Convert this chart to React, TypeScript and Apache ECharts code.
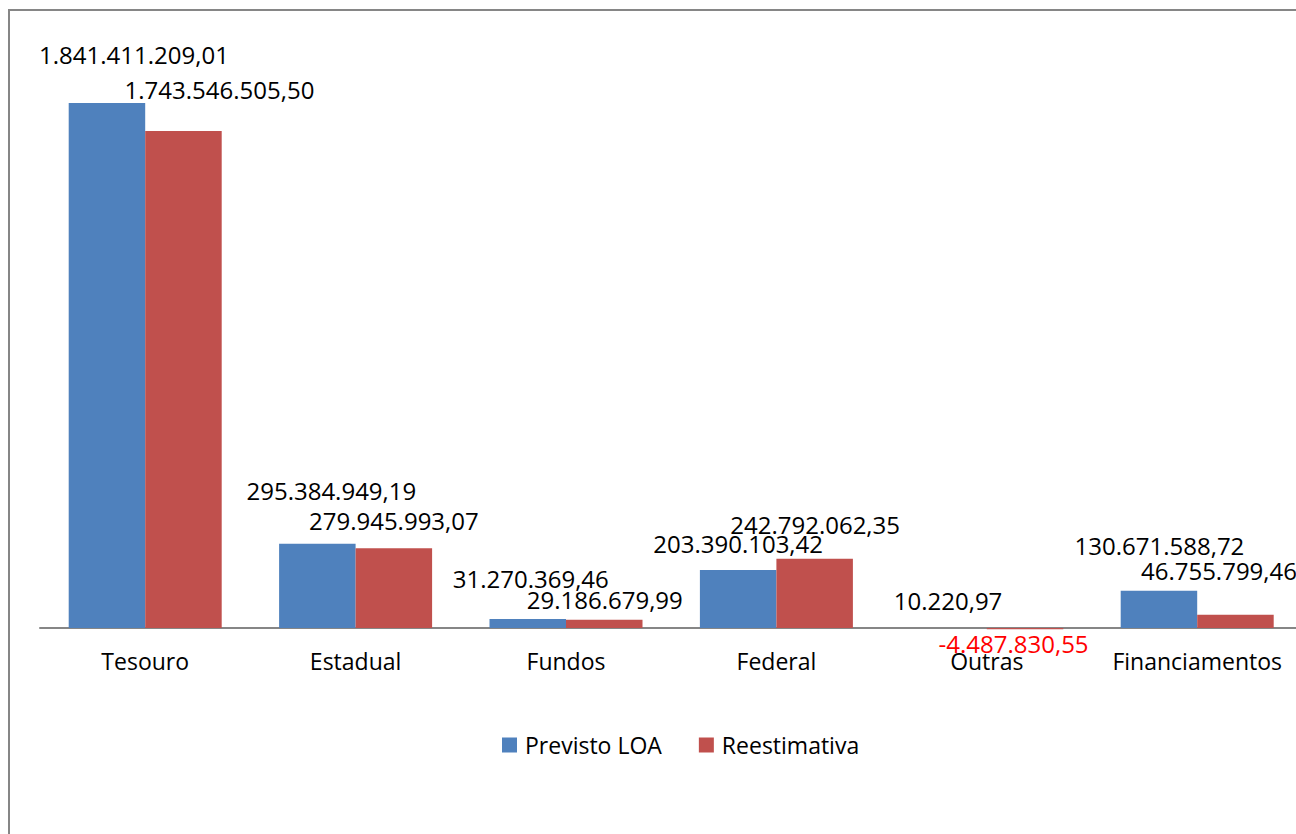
import React, { useEffect, useRef } from "react";
import * as echarts from "echarts";

const categories = ["Tesouro", "Estadual", "Fundos", "Federal", "Outras", "Financiamentos"];
const previstoLOA = [1841411209.01, 295384949.19, 31270369.46, 203390103.42, 10220.97, 130671588.72];
const reestimativa = [1743546505.5, 279945993.07, 29186679.99, 242792062.35, -4487830.55, 46755799.46];

// label offsets (dx, dy) relative to bar top centre
const blueOffsets = [[27, -48.5], [14, -53.5], [3, -41], [0, -27], [-0.5, -27], [0.5, -45]];
const redOffsets = [[36, -41.5], [0, -27.5], [0.5, -20.5], [0.5, -34.5], [-11.5, 16], [-16.5, -44]];

const fmt = (v: number) => {
  const neg = v < 0;
  const abs = Math.abs(v);
  const [i, d] = abs.toFixed(2).split(".");
  const withDots = i.replace(/\B(?=(\d{3})+(?!\d))/g, ".");
  return (neg ? "-" : "") + withDots + "," + d;
};

const FONT = "'Open Sans', sans-serif";

export default function App() {
  const ref = useRef<HTMLDivElement>(null);
  useEffect(() => {
    if (!ref.current) return;
    const chart = echarts.init(ref.current, undefined, { renderer: "svg" });
    const mk = (vals: number[], offs: number[][], isRed: boolean) =>
      vals.map((v, i) => ({
        value: v,
        label: {
          offset: offs[i],
          color: isRed && v < 0 ? "#FF0000" : "#000000",
        },
      }));
    const labelBase = {
      show: true,
      position: "top",
      distance: 0,
      align: "center",
      verticalAlign: "middle",
      fontFamily: FONT,
      fontSize: 24,
      formatter: (p: any) => fmt(p.value),
    };
    chart.setOption({
      animation: false,
      backgroundColor: "#ffffff",
      textStyle: { fontFamily: FONT },
      graphic: [
        {
          type: "rect",
          shape: { x: 9, y: 10, width: 1400, height: 1000 },
          style: { fill: "none", stroke: "#868686", lineWidth: 2 },
          silent: true,
          z: -1,
        },
      ],
      grid: { left: 40, top: 57.79, width: 1262.4, height: 573.06, containLabel: false },
      legend: {
        left: 497,
        top: 728.5,
        icon: "rect",
        itemWidth: 15,
        itemHeight: 15,
        itemGap: 37,
        textStyle: { fontFamily: FONT, fontSize: 23, color: "#000", padding: [0, 0, 0, 3], lineHeight: 23 },
        data: ["Previsto LOA", "Reestimativa"],
      },
      xAxis: {
        type: "category",
        data: categories,
        axisLine: { onZero: true, lineStyle: { color: "#868686", width: 2 } },
        axisTick: { show: false },
        axisLabel: { fontFamily: FONT, fontSize: 23, color: "#000", margin: 19, interval: 0 },
      },
      yAxis: {
        type: "value",
        min: -10000000,
        max: 2000000000,
        show: false,
        splitLine: { show: false },
      },
      series: [
        {
          name: "Previsto LOA",
          type: "bar",
          barWidth: 76.5,
          barGap: "0%",
          itemStyle: { color: "#4F81BD" },
          label: labelBase,
          data: mk(previstoLOA, blueOffsets, false),
        },
        {
          name: "Reestimativa",
          type: "bar",
          barWidth: 76.5,
          barGap: "0%",
          itemStyle: { color: "#C0504D" },
          label: labelBase,
          data: mk(reestimativa, redOffsets, true),
        },
      ],
    });
    return () => chart.dispose();
  }, []);
  return (
    <div style={{ position: "fixed", left: 0, top: 0, width: 1296, height: 834, overflow: "hidden", background: "#fff" }}>
      <div ref={ref} style={{ width: 1340, height: 834 }} />
    </div>
  );
}
